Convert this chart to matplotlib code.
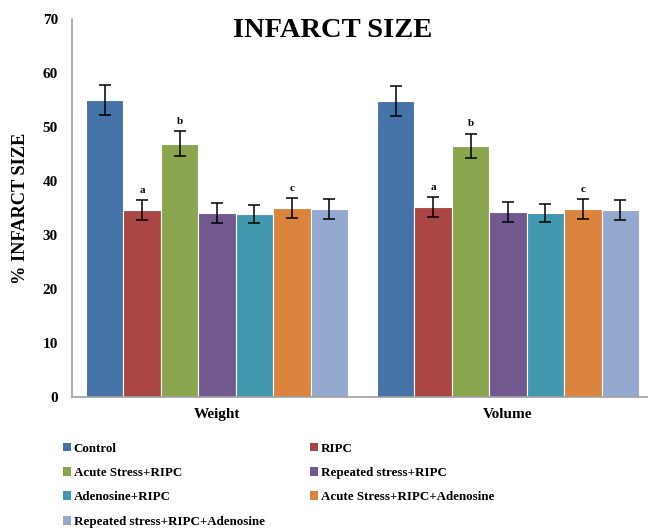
import numpy as np
import matplotlib.pyplot as plt
from matplotlib.patches import Patch

plt.rcParams['font.family'] = ['Liberation Serif', 'DejaVu Serif']
plt.rcParams['font.weight'] = 'bold'

groups = ['Weight', 'Volume']
series = ['Control', 'RIPC', 'Acute Stress+RIPC', 'Repeated stress+RIPC',
          'Adenosine+RIPC', 'Acute Stress+RIPC+Adenosine',
          'Repeated stress+RIPC+Adenosine']
colors = ['#4572A7', '#AA4643', '#89A54E', '#71588F', '#4198AF', '#DB843D', '#93A9CF']
weight = [55.0, 34.6, 46.9, 34.1, 33.9, 35.0, 34.8]
volume = [54.8, 35.2, 46.5, 34.3, 34.1, 34.8, 34.6]
weight_err = [2.8, 1.8, 2.3, 1.8, 1.7, 1.8, 1.8]
volume_err = [2.8, 1.8, 2.3, 1.8, 1.7, 1.8, 1.8]
letters = ['', 'a', 'b', '', '', 'c', '']

fig = plt.figure(figsize=(6.48, 5.31), dpi=100)
ax = fig.add_axes([0.111, 0.2524, 0.889, 0.7116])

gap = 7.775
for gi, (vals, errs) in enumerate([(weight, weight_err), (volume, volume_err)]):
    for i in range(len(series)):
        x = gi * gap + i
        ax.bar(x, vals[i], width=1.0, color=colors[i], edgecolor='white',
               linewidth=0.8, zorder=2)
        ax.errorbar(x, vals[i], yerr=errs[i], fmt='none', ecolor='black',
                    elinewidth=1.1, capsize=4, capthick=1.1, zorder=3)
        if letters[i]:
            ax.text(x, vals[i] + errs[i] + 1.0, letters[i], ha='center',
                    va='bottom', fontsize=8, fontweight='bold')

ax.set_xlim(-0.5 - 0.374, 6.5 + gap + 0.24)
ax.set_ylim(0, 70)
ax.set_yticks(range(0, 71, 10))
ax.set_xticks([3, gap + 3])
ax.set_xticklabels(groups, fontsize=10.5, fontweight='bold')
ax.tick_params(axis='both', length=0, labelsize=11)
ax.tick_params(axis='y', pad=10)
ax.tick_params(axis='x', pad=8)
for lab in ax.get_yticklabels():
    lab.set_fontweight('bold')
for s in ['top', 'right']:
    ax.spines[s].set_visible(False)
for s in ['left', 'bottom']:
    ax.spines[s].set_color('#a0a0a0')
    ax.spines[s].set_linewidth(1.2)

ax.set_ylabel('% INFARCT SIZE', fontsize=13.2, fontweight='bold', labelpad=10)
fig.text(333 / 648, 1 - 31 / 531, 'INFARCT SIZE', fontsize=20.5,
         fontweight='bold', ha='center', va='center')

order = [0, 2, 4, 6, 1, 3, 5]
handles = [Patch(facecolor=colors[k], label=series[k]) for k in order]
fig.legend(handles=handles, ncol=2, loc='upper left',
           bbox_to_anchor=(0.0865, 1 - 436 / 531), frameon=False,
           handlelength=0.65, handleheight=0.65, handletextpad=0.2,
           labelspacing=0.95, columnspacing=3.45, borderpad=0,
           prop={'weight': 'bold', 'size': 9.4})

fig.savefig('out.png', dpi=100)
